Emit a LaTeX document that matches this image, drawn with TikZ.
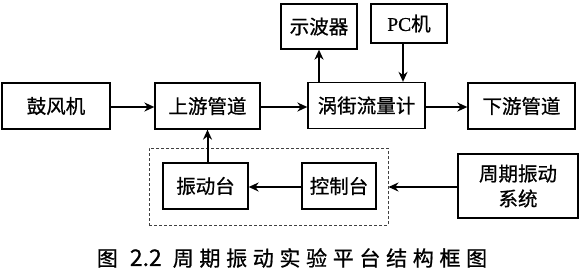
\documentclass[tikz,border=0pt]{standalone}
\usepackage{fontspec}
\setmainfont{Noto Sans CJK SC}[FakeBold=0.8]
\newfontfamily\latinserif{Liberation Serif}[FakeBold=0.8]
\usetikzlibrary{arrows.meta}
\begin{document}
\begin{tikzpicture}[x=1pt,y=-1pt,
  blk/.style={draw=black,line width=1.3pt,minimum height=46pt,inner sep=0pt,font=\fontsize{19.5}{21}\selectfont},
  arr/.style={line width=2pt,-{Stealth[length=10pt,width=9pt]}},
  dashbox/.style={draw=black!75,line width=1pt,dashed,dash pattern=on 3pt off 2pt}]
\useasboundingbox (0,0) rectangle (583,276);
\node[blk,minimum width=108pt] (blower) at (56,106) {鼓风机};
\node[blk,minimum width=105pt] (up) at (207.5,106) {上游管道};
\node[blk,minimum width=117pt] (vortex) at (366.5,105.5) {涡街流量计};
\node[blk,minimum width=107pt] (down) at (521.5,106) {下游管道};
\node[blk,minimum width=76pt,minimum height=45pt] (scope) at (319,26.5) {示波器};
\node[blk,minimum width=76pt,minimum height=39pt] (pc) at (409,23.5) {{\latinserif PC}机};
\node[blk,minimum width=85pt] (vib) at (205.5,186) {振动台};
\node[blk,minimum width=74pt] (ctrl) at (339,186) {控制台};
\node[blk,minimum width=120pt,minimum height=64pt,align=center,font=\fontsize{19.5}{25}\selectfont] (sys) at (518,186) {周期振动\\系统};
\node[dashbox,minimum width=239pt,minimum height=77pt] (group) at (268.5,186.5) {};
\node[font=\fontsize{21}{24}\selectfont] (cap) at (292,258) {图\hspace{12pt}{\fontsize{23}{24}\selectfont 2.2}\hspace{11pt}{\addfontfeature{LetterSpace=27}周期振动实验平台结构框图}};
\draw[arr] (blower.east |- 0,107) -- (up.west |- 0,107);
\draw[arr] (up.east |- 0,107) -- (vortex.west |- 0,107);
\draw[arr] (vortex.east |- 0,107) -- (down.west |- 0,107);
\draw[arr] (vortex.north -| scope.south) -- (scope.south);
\draw[arr] ([xshift=-6pt]pc.south) -- ([xshift=-6pt]pc.south |- vortex.north);
\draw[arr] (vib.north -| up.south) -- (up.south);
\draw[arr] (ctrl.west |- 0,187) -- (vib.east |- 0,187);
\draw[arr] (sys.west |- 0,187) -- (group.east |- 0,187);
\end{tikzpicture}
\end{document}
